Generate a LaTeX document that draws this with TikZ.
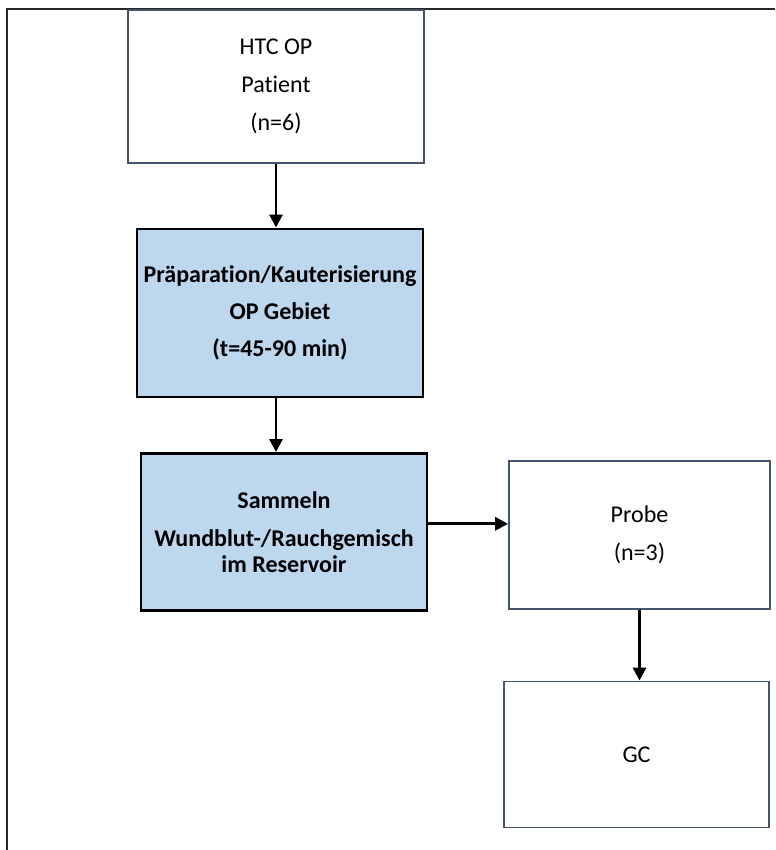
\documentclass[tikz,border=0pt]{standalone}
\usepackage{fontspec}
\setmainfont[Ligatures=CommonOff]{Carlito}
\usepackage{tikz}
\usetikzlibrary{arrows.meta}
\definecolor{boxgray}{RGB}{68,84,106}
\definecolor{stepblue}{RGB}{189,215,238}

\begin{document}
\begin{tikzpicture}[x=0.03cm,y=-0.03cm,
		plainbox/.style={draw=boxgray,line width=1.5pt,fill=white,align=center,inner sep=0pt,
			font=\fontsize{20.5}{32.5}\selectfont},
		bluebox/.style={draw=black,line width=2.5pt,fill=stepblue,align=center,inner sep=0pt,
			font=\fontsize{20.5}{31.5}\selectfont\bfseries},
		flow/.style={line width=2.4pt,-{Triangle[length=11pt,width=11pt]}}]
		\useasboundingbox (0,0) rectangle (775,850);
		% outer frame (runs past the page)
		\draw[line width=2pt,black!85] (7,850) -- (7,9) -- (775,9);
		% boxes
		\node[plainbox,minimum width=296*0.03cm,minimum height=153*0.03cm] (htc) at (276,86.5)
			{HTC OP\\Patient\\(n=6)};
		\node[bluebox,minimum width=286*0.03cm,minimum height=168*0.03cm] (prep) at (280,313)
			{Präparation/Kauterisierung\\OP Gebiet\\(t=45-90 min)};
		\node[bluebox,minimum width=286*0.03cm,minimum height=157*0.03cm] (samm) at (284,532)
			{Sammeln\\[1pt]Wundblut-/Rauchgemisch\\[-9.3pt]im Reservoir};
		\node[plainbox,minimum width=261*0.03cm,minimum height=148*0.03cm] (probe) at (639.5,535)
			{Probe\\(n=3)};
		\node[plainbox,minimum width=265*0.03cm,minimum height=146*0.03cm] (gc) at (636.5,754.5)
			{GC};
		% arrows
		\draw[flow] (htc.south) -- (htc.south |- prep.north);
		\draw[flow] (htc.south |- prep.south) -- (htc.south |- samm.north);
		\draw[flow] ([yshift=7pt]samm.east) -- ([yshift=7pt]samm.east -| probe.west);
		\draw[flow] (probe.south) -- (probe.south |- gc.north);
	\end{tikzpicture}
\end{document}
